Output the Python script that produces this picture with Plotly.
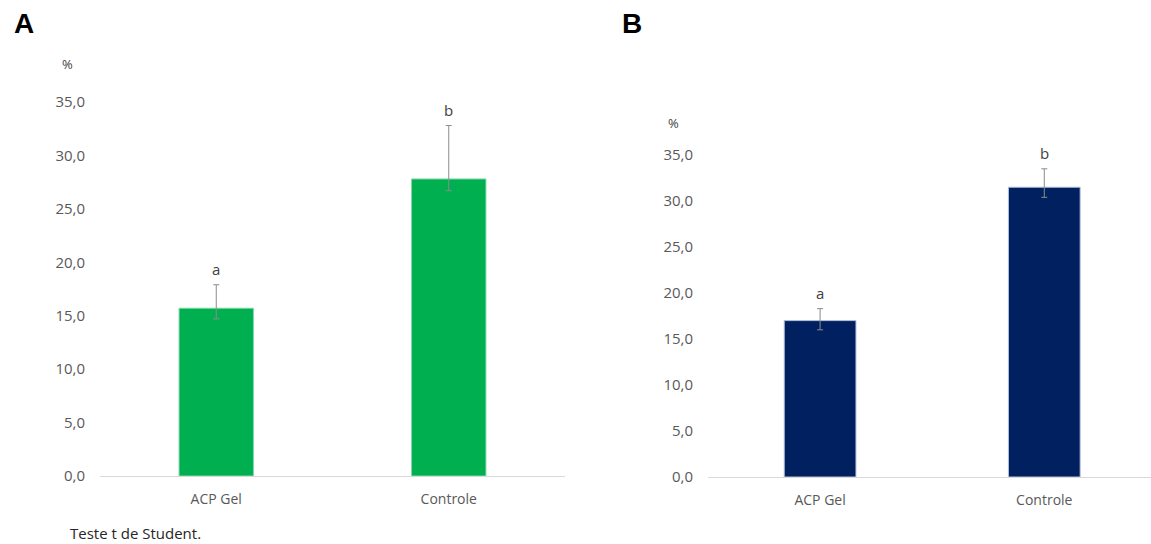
import plotly.graph_objects as go

categories = ["ACP Gel", "Controle"]

# Panel A
values_a = [15.7, 27.8]
err_plus_a = [2.2, 5.0]
err_minus_a = [1.0, 1.1]
letters_a = ["a", "b"]

# Panel B
values_b = [17.0, 31.5]
err_plus_b = [1.3, 2.0]
err_minus_b = [1.0, 1.1]
letters_b = ["a", "b"]

ytick_vals = [0, 5, 10, 15, 20, 25, 30, 35]

W, H = 1151, 544
FONT = "Open Sans"
TICK_COLOR = "#595959"

fig = go.Figure()

fig.add_trace(go.Bar(
    x=categories, y=values_a, width=0.32,
    marker=dict(color="#00B050", line=dict(color="#7FD8A7", width=1)),
    error_y=dict(type="data", symmetric=False, array=err_plus_a, arrayminus=err_minus_a,
                 color="#8C8C8C", thickness=1, width=3),
    xaxis="x", yaxis="y", showlegend=False,
))
fig.add_trace(go.Bar(
    x=categories, y=values_b, width=0.32,
    marker=dict(color="#002060", line=dict(color="#B4C2DC", width=1)),
    error_y=dict(type="data", symmetric=False, array=err_plus_b, arrayminus=err_minus_b,
                 color="#8C8C8C", thickness=1, width=3),
    xaxis="x2", yaxis="y2", showlegend=False,
))

axis_common_x = dict(
    type="category", showline=True, linecolor="#D9D9D9", linewidth=1,
    showgrid=False, zeroline=False, ticks="", automargin=False,
    tickfont=dict(family=FONT, size=14, color=TICK_COLOR),
    ticklabelstandoff=10,
)
axis_common_y = dict(
    range=[0, 35], showgrid=False, zeroline=False, showline=False, ticks="",
    automargin=False,
    tickvals=ytick_vals, tickformat=".1f",
    tickfont=dict(family=FONT, size=15, color=TICK_COLOR),
    ticklabelstandoff=14,
)

fig.update_layout(
    width=W, height=H,
    margin=dict(l=0, r=0, t=0, b=0, pad=0, autoexpand=False),
    paper_bgcolor="white", plot_bgcolor="white",
    separators=",.",
    bargap=0.68,
    xaxis=dict(axis_common_x, domain=[100 / W, 565 / W], range=[-0.5, 1.5], anchor="y"),
    yaxis=dict(axis_common_y, domain=[68 / H, 442 / H], anchor="x"),
    xaxis2=dict(axis_common_x, domain=[708 / W, 1.0], range=[-0.5, 1.476], anchor="y2"),
    yaxis2=dict(axis_common_y, domain=[67 / H, 389 / H], anchor="x2"),
)

ann = []
for cat, v, ep, lt in zip(categories, values_a, err_plus_a, letters_a):
    ann.append(dict(x=cat, y=v + ep, xref="x", yref="y", text=lt, showarrow=False,
                    yanchor="middle", yshift=16,
                    font=dict(family=FONT, size=15, color="#404040")))
for cat, v, ep, lt in zip(categories, values_b, err_plus_b, letters_b):
    ann.append(dict(x=cat, y=v + ep, xref="x2", yref="y2", text=lt, showarrow=False,
                    yanchor="middle", yshift=16,
                    font=dict(family=FONT, size=15, color="#404040")))

# Unit labels
ann.append(dict(x=67 / W, y=1 - 64 / H, xref="paper", yref="paper", text="%", showarrow=False,
                xanchor="center", yanchor="middle", font=dict(family=FONT, size=13, color="#404040")))
ann.append(dict(x=673 / W, y=1 - 123 / H, xref="paper", yref="paper", text="%", showarrow=False,
                xanchor="center", yanchor="middle", font=dict(family=FONT, size=13, color="#404040")))

# Panel letters
ann.append(dict(x=24 / W, y=1 - 24 / H, xref="paper", yref="paper", text="<b>A</b>", showarrow=False,
                xanchor="center", yanchor="middle", font=dict(family="Liberation Sans", size=28, color="black")))
ann.append(dict(x=632 / W, y=1 - 24 / H, xref="paper", yref="paper", text="<b>B</b>", showarrow=False,
                xanchor="center", yanchor="middle", font=dict(family="Liberation Sans", size=28, color="black")))

# Footnote
ann.append(dict(x=68 / W, y=1 - 533 / H, xref="paper", yref="paper", text="Teste t de Student.",
                showarrow=False, xanchor="left", yanchor="middle",
                font=dict(family=FONT, size=15, color="#262626")))

fig.update_layout(annotations=ann)

fig.write_html(
    "out.html",
    config={"displayModeBar": False},
    post_script="document.body.style.margin='0';document.body.style.overflow='hidden';"
                "document.documentElement.style.overflow='hidden';",
)
